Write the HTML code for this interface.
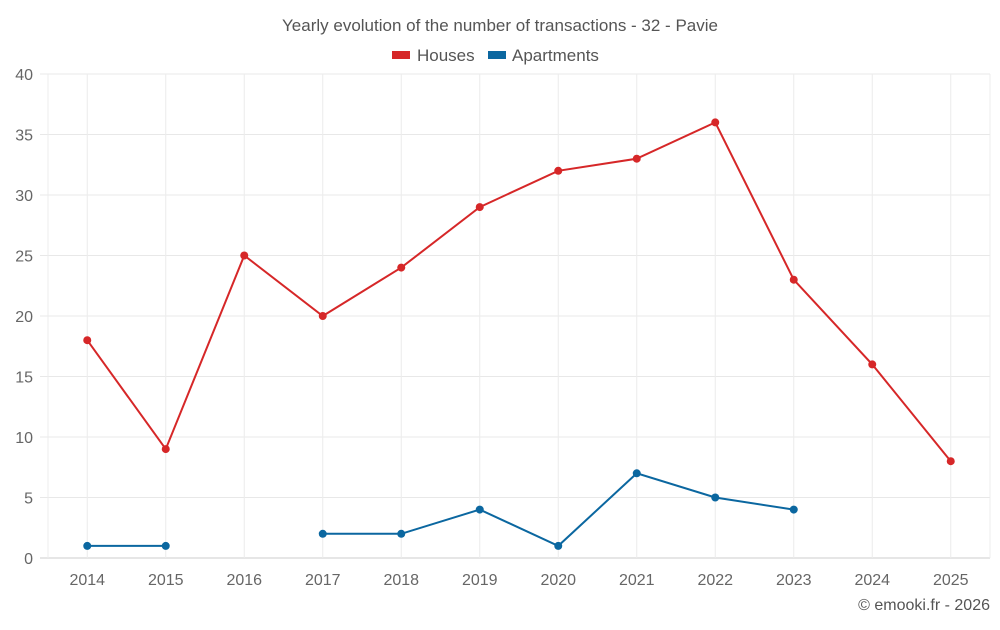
<!DOCTYPE html>
<html><head><meta charset="utf-8"><style>
body{margin:0;background:#fff;font-family:"Liberation Sans",sans-serif;}
svg text{font-family:"Liberation Sans",sans-serif;}
</style></head><body>
<svg id="chart" width="1000" height="625" xmlns="http://www.w3.org/2000/svg">
<text x="500" y="31" text-anchor="middle" font-size="17" fill="#555">Yearly evolution of the number of transactions - 32 - Pavie</text>
<g><rect x="392" y="51" width="18" height="8" fill="#d62728"/><text x="417" y="61" font-size="17" fill="#555">Houses</text></g>
<g><rect x="488" y="51" width="18" height="8" fill="#0b67a0"/><text x="512" y="61" font-size="17" fill="#555">Apartments</text></g>
<g id="grid"></g><g id="axes"></g><g id="series"></g>
<text x="990" y="610" text-anchor="end" font-size="16" fill="#555">© emooki.fr - 2026</text>
</svg>
<script>
const categories=["2014","2015","2016","2017","2018","2019","2020","2021","2022","2023","2024","2025"];
const houses=[18,9,25,20,24,29,32,33,36,23,16,8];
const apartments=[1,1,null,2,2,4,1,7,5,4,null,null];
const yTicks=[0,5,10,15,20,25,30,35,40];
const NS="http://www.w3.org/2000/svg";
const L=48,R=990,T=74,B=558,yMax=40;
const bw=(R-L)/categories.length;
const x=i=>L+bw*(i+0.5);
const y=v=>B-(v/yMax)*(B-T);
function mk(t,a,p){const e=document.createElementNS(NS,t);for(const k in a)e.setAttribute(k,a[k]);p.appendChild(e);return e;}
const grid=document.getElementById('grid'),axes=document.getElementById('axes'),ser=document.getElementById('series');
yTicks.forEach(v=>{
  const g=mk('line',{x1:40,x2:R,y1:y(v),y2:y(v),stroke:v===0?'#ccc':'#e8e8e8'},grid);
  
  
  const t=mk('text',{x:33,y:y(v)+6,'text-anchor':'end','font-size':16,fill:'#666'},axes);t.textContent=v;
  
  
});
[L,R].forEach(xx=>{
  const g=mk('line',{x1:xx,x2:xx,y1:T,y2:B,stroke:'#ececec'},grid);
  
  
});
categories.forEach((c,i)=>{
  const g=mk('line',{x1:x(i),x2:x(i),y1:T,y2:B,stroke:'#ececec'},grid);
  
  
  const t=mk('text',{x:x(i),y:585,'text-anchor':'middle','font-size':16,fill:'#666'},axes);t.textContent=c;
  
  
});
function draw(data,color,name){
  let d='',pen=false;
  data.forEach((v,i)=>{if(v==null){pen=false;return;}d+=(pen?'L':'M')+x(i)+','+y(v);pen=true;});
  const p=mk('path',{d:d,fill:'none',stroke:color,'stroke-width':2},ser);
  
  
  data.forEach((v,i)=>{if(v==null)return;
    const c=mk('circle',{cx:x(i),cy:y(v),r:4,fill:color},ser);
    
    
  });
}
draw(houses,'#d62728','houses');
draw(apartments,'#0b67a0','apartments');
</script>
</body></html>
